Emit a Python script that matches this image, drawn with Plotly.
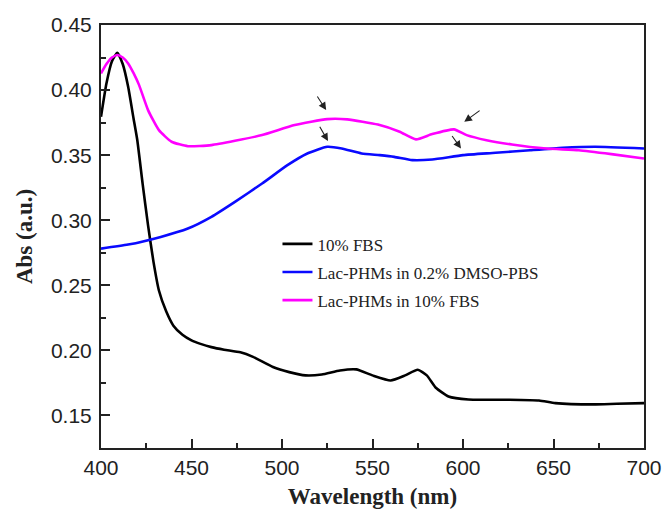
import plotly.graph_objects as go

# ---- data ----
wl_fbs = [400, 403, 406, 409, 412, 415, 418, 420, 423, 426, 429, 432, 436, 440, 445,
          450, 455, 461, 468, 477, 484, 495, 504, 513, 522, 532, 541, 550, 560, 568,
          575, 580, 585, 592, 603, 624, 642, 651, 672, 685, 700]
abs_fbs = [0.3795, 0.405, 0.422, 0.4287, 0.420, 0.4025, 0.378, 0.362, 0.328, 0.296,
           0.268, 0.246, 0.230, 0.219, 0.212, 0.2077, 0.205, 0.2025, 0.2005, 0.1985,
           0.195, 0.1872, 0.1833, 0.1808, 0.1815, 0.1846, 0.1854, 0.1808, 0.1769,
           0.1808, 0.1851, 0.1808, 0.1713, 0.1646, 0.1623, 0.1621, 0.1615, 0.1595,
           0.1585, 0.1590, 0.1595]

wl_dmso = [400, 415, 433, 448, 461, 474, 489, 503, 514, 525, 533, 544, 554, 562, 572,
           583, 600, 618, 637, 655, 673, 700]
abs_dmso = [0.2782, 0.2813, 0.2872, 0.2936, 0.3026, 0.3141, 0.3282, 0.3423, 0.3513,
            0.3564, 0.3551, 0.3513, 0.3500, 0.3487, 0.3462, 0.3467, 0.3500, 0.3518,
            0.3538, 0.3556, 0.3564, 0.3551]

wl_serum = [400, 403, 406, 409, 412, 415, 418, 421, 426, 432, 439, 448, 461, 474, 489,
            507, 525, 536, 553, 565, 574, 583, 595, 602, 613, 627, 646, 664, 682, 700]
abs_serum = [0.4128, 0.420, 0.425, 0.4269, 0.425, 0.4205, 0.413, 0.404, 0.3846, 0.3692,
             0.3603, 0.3569, 0.3577, 0.361, 0.3654, 0.3731, 0.3777, 0.3775, 0.3735,
             0.368, 0.3621, 0.3662, 0.3698, 0.3654, 0.3615, 0.3582, 0.3551, 0.3538,
             0.3508, 0.3474]

names = ["10% FBS", "Lac-PHMs in 0.2% DMSO-PBS", "Lac-PHMs in 10% FBS"]
colors = ["#000000", "#0a0aff", "#ff00ff"]

# arrows: (tail_x, tail_y, head_x, head_y)
arrow_tail_x = [519, 520.4, 610, 593.4]
arrow_tail_y = [0.3962, 0.373, 0.3851, 0.3659]
arrow_head_x = [524.4, 525.4, 600.7, 598.9]
arrow_head_y = [0.3846, 0.3608, 0.3756, 0.3551]

xticks = [400, 450, 500, 550, 600, 650, 700]
yticks = [0.15, 0.20, 0.25, 0.30, 0.35, 0.40, 0.45]

fig = go.Figure()
for i, (x, y) in enumerate([(wl_fbs, abs_fbs), (wl_dmso, abs_dmso), (wl_serum, abs_serum)]):
    fig.add_trace(go.Scatter(
        x=x, y=y, mode="lines", name=names[i], legendgroup=str(i),
        line=dict(color=colors[i], width=2.6, shape="spline", smoothing=0.5),
    ))

for tx, ty, hx, hy in zip(arrow_tail_x, arrow_tail_y, arrow_head_x, arrow_head_y):
    fig.add_annotation(x=hx, y=hy, ax=tx, ay=ty, xref="x", yref="y",
                       axref="x", ayref="y", showarrow=True, text="",
                       arrowhead=2, arrowsize=1.4, arrowwidth=1.1, arrowcolor="#222")

axis_common = dict(
    showline=True, linecolor="#222", linewidth=2, mirror=True,
    ticks="inside", ticklen=9, tickwidth=2, tickcolor="#222",
    showgrid=False, zeroline=False, automargin=False,
    tickfont=dict(family="Liberation Sans, Arial", size=21, color="#222"),
)

fig.update_xaxes(range=[400, 700], tickvals=xticks, ticktext=[str(v) for v in xticks],
                 ticklabelstandoff=0,
                 minor=dict(ticks="inside", ticklen=5, tickwidth=2, tickcolor="#222", dtick=25),
                 title=dict(text="<b>Wavelength (nm)</b>", standoff=10,
                            font=dict(family="Liberation Serif, Times New Roman", size=23, color="#222")),
                 **axis_common)
fig.update_yaxes(range=[0.125, 0.45], tickvals=yticks, ticktext=[f"{v:.2f}" for v in yticks],
                 ticklabelstandoff=3,
                 minor=dict(ticks="inside", ticklen=5, tickwidth=2, tickcolor="#222", dtick=0.025, tick0=0.125),
                 title=dict(text="<b>Abs (a.u.)</b>", standoff=12,
                            font=dict(family="Liberation Serif, Times New Roman", size=23, color="#222")),
                 **axis_common)

fig.update_layout(
    width=666, height=511,
    margin=dict(l=101, r=22, t=25, b=63),
    paper_bgcolor="white", plot_bgcolor="white",
    showlegend=True,
    legend=dict(x=0.325, y=0.524, xanchor="left", yanchor="top",
                bgcolor="rgba(0,0,0,0)", tracegroupgap=3,
                font=dict(family="Liberation Serif, Times New Roman", size=17, color="#222")),
)

fig.write_html("out.html", config={"displayModeBar": False},
               post_script="document.body.style.margin='0';document.body.style.overflow='hidden';")
